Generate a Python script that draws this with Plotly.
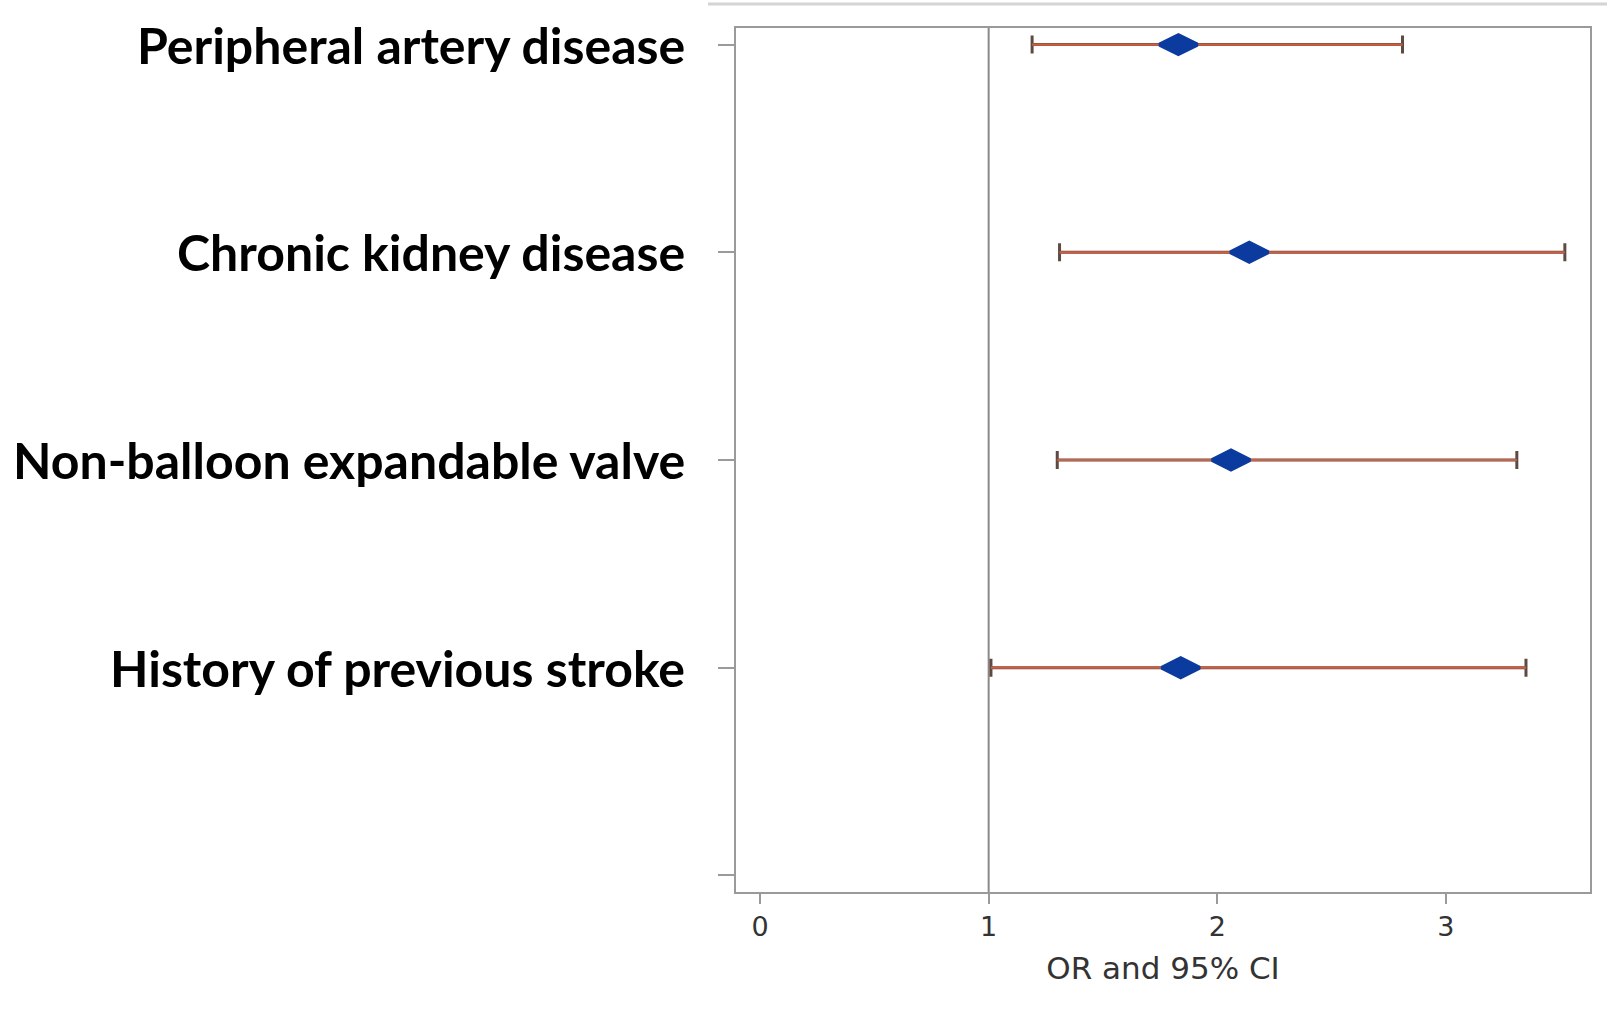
import plotly.graph_objects as go

# Odds ratios with 95% confidence intervals
factors = [
    "Peripheral artery disease",
    "Chronic kidney disease",
    "Non-balloon expandable valve",
    "History of previous stroke",
]
odds_ratio = [1.83, 2.14, 2.06, 1.84]
ci_low = [1.19, 1.31, 1.30, 1.01]
ci_high = [2.81, 3.52, 3.31, 3.35]
row_pos = [1, 2, 3, 4]
x_ticks = [0, 1, 2, 3]

W, H = 1607, 1010
L, R, T, B = 736, 17, 28, 118

fig = go.Figure()

# whisker caps (dark) underneath the coloured CI line
fig.add_trace(go.Scatter(
    x=odds_ratio, y=row_pos, mode="markers",
    marker=dict(size=1, color="rgba(0,0,0,0)"),
    error_x=dict(type="data", symmetric=False,
                 array=[h - o for h, o in zip(ci_high, odds_ratio)],
                 arrayminus=[o - l for o, l in zip(odds_ratio, ci_low)],
                 color="#5e4a42", thickness=3, width=9),
    showlegend=False, hoverinfo="skip",
))

# CI line
ci_x, ci_y = [], []
for lo, hi, y in zip(ci_low, ci_high, row_pos):
    ci_x += [lo, hi, None]
    ci_y += [y, y, None]
fig.add_trace(go.Scatter(
    x=ci_x, y=ci_y, mode="lines",
    line=dict(color="#cf5f42", width=2.2),
    showlegend=False, hoverinfo="skip",
))

# point estimates
fig.add_trace(go.Scatter(
    x=odds_ratio, y=row_pos, mode="markers",
    marker=dict(symbol="diamond-wide", size=27, color="#0b3b9e",
                line=dict(width=4, color="#0b3b9e")),
    showlegend=False,
))

# no-effect reference line
fig.add_vline(x=1, line=dict(color="#8a8a8a", width=2), layer="below")

# factor labels
for name, y in zip(factors, row_pos):
    fig.add_annotation(
        x=-0.057, xref="paper", y=y, yref="y", text=name, showarrow=False,
        xanchor="right", yanchor="middle",
        font=dict(family="Lato", size=50, color="#000000", weight="bold"),
    )

# thin separator line across the top
fig.add_shape(type="line", xref="paper", yref="paper",
              x0=(708 - L) / (W - L - R), x1=(W - L) / (W - L - R),
              y0=1 + (T - 4) / (H - T - B), y1=1 + (T - 4) / (H - T - B),
              line=dict(color="#d4d4d4", width=3))

fig.update_xaxes(
    range=[-0.105, 3.63], tickvals=x_ticks, ticktext=[str(v) for v in x_ticks],
    showgrid=False, zeroline=False,
    showline=True, mirror=True, linecolor="#9a9a9a", linewidth=2,
    ticks="outside", ticklen=10, tickcolor="#9a9a9a", tickwidth=2,
    tickfont=dict(family="DejaVu Sans", size=27, color="#333333"),
    title=dict(text="OR and 95% CI", standoff=16,
               font=dict(family="DejaVu Sans", size=31, color="#333333")),
)
fig.update_yaxes(
    range=[5.08, 0.92], tickvals=[1, 2, 3, 4, 5], showticklabels=False,
    showgrid=False, zeroline=False,
    showline=True, mirror=True, linecolor="#9a9a9a", linewidth=2,
    ticks="outside", ticklen=16, tickcolor="#9a9a9a", tickwidth=2,
)

fig.update_layout(
    width=W, height=H,
    margin=dict(l=L, r=R, t=T, b=B),
    paper_bgcolor="white", plot_bgcolor="white",
)

fig.write_html("out.html")
